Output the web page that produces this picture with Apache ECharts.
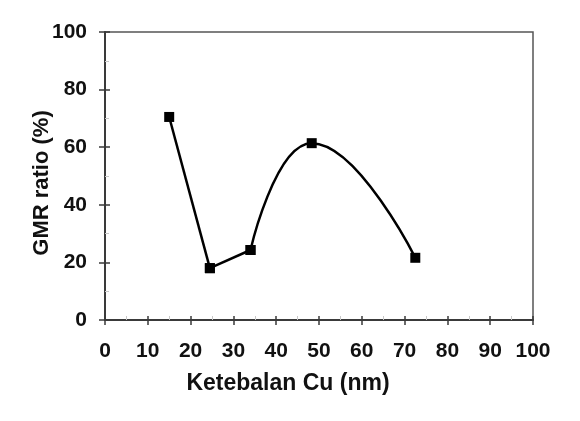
<!DOCTYPE html>
<html>
<head>
<meta charset="utf-8">
<script src="https://cdn.jsdelivr.net/npm/echarts@6/dist/echarts.min.js"></script>
<style>
  html, body { margin: 0; padding: 0; background: #fff; }
  #chart { width: 580px; height: 421px; }
</style>
</head>
<body>
<div id="chart"></div>
<script>
// data
const thickness = [15, 24.5, 34, 48.3, 72.5]
const gmrRatio = [70.5, 18, 24.3, 61.4, 21.6]
const xTicks = [0, 10, 20, 30, 40, 50, 60, 70, 80, 90, 100]
const yTicks = [0, 20, 40, 60, 80, 100]

const chart = echarts.init(document.getElementById('chart'))
const font = 'Liberation Sans, Arial, sans-serif'
const axisColor = '#3a3a3a'

const points = thickness.map((x, i) => [x, gmrRatio[i]])
// the drop and the valley are nearly straight in the figure, the hump is smooth
const pieces = [
  { data: points.slice(0, 2), smooth: false },
  { data: points.slice(1, 3), smooth: false },
  { data: points.slice(2), smooth: 0.5 }
]

const option = {
  animation: false,
  grid: {
    left: 105,
    right: 47,
    top: 32,
    bottom: 101,
    show: true,
    borderColor: '#555',
    borderWidth: 1.5
  },
  xAxis: [
    {
      type: 'value',
      min: xTicks[0],
      max: xTicks[xTicks.length - 1],
      interval: 10,
      name: 'Ketebalan Cu (nm)',
      nameLocation: 'middle',
      nameGap: 52,
      nameTextStyle: { fontFamily: font, fontWeight: 'bold', fontSize: 23, color: '#111', padding: [0, 62, 0, 0] },
      axisLine: { show: true, lineStyle: { color: axisColor, width: 2 } },
      axisTick: { show: true, inside: false, length: 5, lineStyle: { color: axisColor, width: 1.5 } },
      axisLabel: { fontFamily: font, fontWeight: 'bold', fontSize: 21, color: '#111', margin: 21 },
      splitLine: { show: false }
    },
    {
      type: 'value',
      min: xTicks[0],
      max: xTicks[xTicks.length - 1],
      interval: 10,
      position: 'bottom',
      axisLine: { show: false },
      axisTick: { show: true, inside: true, length: 4, lineStyle: { color: axisColor, width: 1.5 } },
      minorTick: { show: true, splitNumber: 2, length: 4, lineStyle: { color: '#c8c8c8', width: 1 } },
      axisLabel: { show: false },
      splitLine: { show: false }
    }
  ],
  yAxis: [
    {
      type: 'value',
      min: yTicks[0],
      max: yTicks[yTicks.length - 1],
      interval: 20,
      name: 'GMR ratio (%)',
      nameLocation: 'middle',
      nameGap: 52,
      nameMoveOverlap: false,
      nameRotate: 90,
      nameTextStyle: { fontFamily: font, fontWeight: 'bold', fontSize: 22, color: '#111', padding: [0, 14, 0, 0] },
      axisLine: { show: true, lineStyle: { color: axisColor, width: 2 } },
      axisTick: { show: true, inside: false, length: 6, lineStyle: { color: axisColor, width: 1.5 } },
      axisLabel: { fontFamily: font, fontWeight: 'bold', fontSize: 21, color: '#111', margin: 18 },
      splitLine: { show: false }
    },
    {
      type: 'value',
      min: yTicks[0],
      max: yTicks[yTicks.length - 1],
      interval: 20,
      position: 'left',
      axisLine: { show: false },
      axisTick: { show: true, inside: true, length: 5, lineStyle: { color: axisColor, width: 1.5 } },
      minorTick: { show: true, splitNumber: 2, length: 4, lineStyle: { color: '#c8c8c8', width: 1 } },
      axisLabel: { show: false },
      splitLine: { show: false }
    }
  ],
  series: pieces.map(p => ({
    type: 'line',
    data: p.data,
    smooth: p.smooth,
    symbol: 'rect',
    symbolSize: 10,
    itemStyle: { color: '#000' },
    lineStyle: { color: '#000', width: 2.5 }
  }))
}

chart.setOption(option)
</script>
</body>
</html>
